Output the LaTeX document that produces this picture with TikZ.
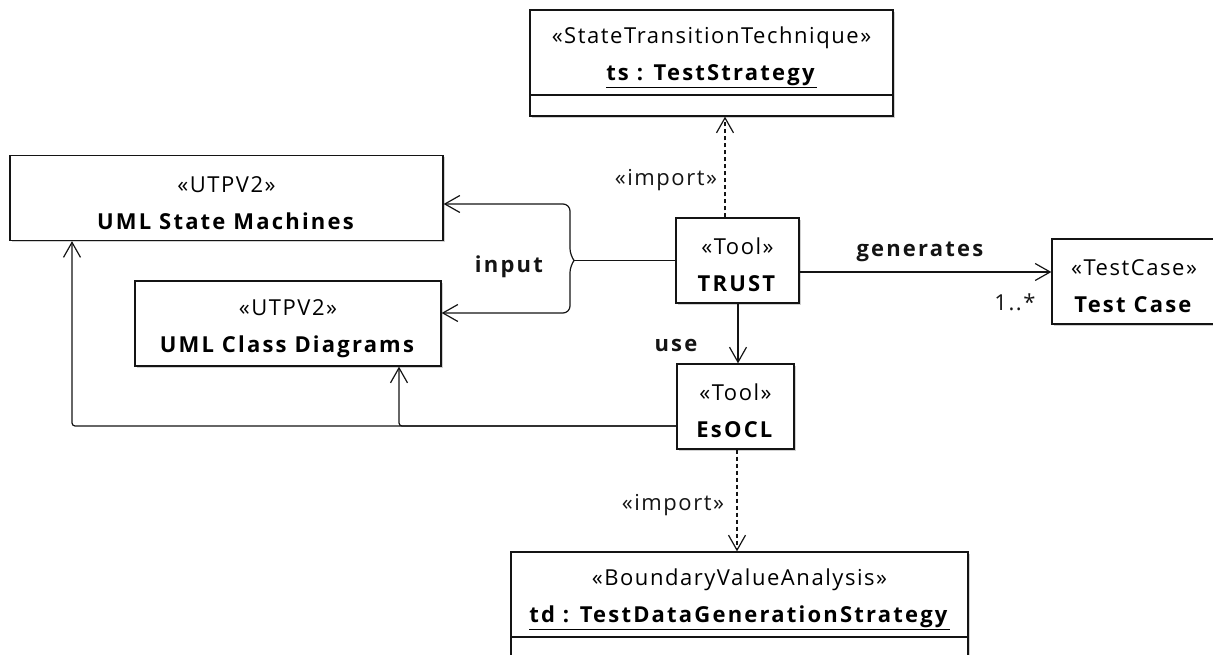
\documentclass[tikz,border=0pt]{standalone}
\usepackage{fontspec}
\setmainfont{Open Sans}[LetterSpace=7,BoldFeatures={LetterSpace=10}]
\usetikzlibrary{arrows.meta,positioning,shadows}
\definecolor{umlink}{RGB}{20,20,20}
\newcommand{\umlfont}{\fontsize{22}{37}\selectfont}
\tikzset{
  umlbox/.style={rectangle, draw=umlink, fill=white, line width=1.3pt,
                 minimum height=85pt, inner sep=2pt, align=center, font=\umlfont,
                 drop shadow={shadow xshift=2pt, shadow yshift=-2pt,
                              fill=black, opacity=0.18}},
  umlobj/.style={umlbox, execute at begin node={\rule{0pt}{63pt}}},
  umlops/.style={umlbox, minimum height=21pt},
  uline/.style ={line width=1.2pt, umlink},
  uarrow/.style={uline, -{Straight Barb[length=15pt,width=17pt,line width=1.2pt]}},
  uimport/.style={uarrow, dash pattern=on 4pt off 3pt},
  ulabel/.style={font=\umlfont, inner sep=1pt, text=umlink},
}
\begin{document}
\begin{tikzpicture}[x=1pt,y=-1pt]
\useasboundingbox (0,0) rectangle (1213,655);
\node[umlobj, minimum width=363pt] (ts) at (711.5,52.5)
  {«StateTransitionTechnique»\\\underline{\textbf{ts : TestStrategy}}};
\node[umlops, minimum width=363pt, below=-1.3pt of ts] (tsops) {};
\node[umlobj, minimum width=433pt] (sm) at (226.5,198) {«UTPV2»\\\textbf{UML State Machines}};
\node[umlobj, minimum width=306pt] (cd) at (288,323.5) {«UTPV2»\\\textbf{UML Class Diagrams}};
\node[umlobj, minimum width=123pt] (trust) at (737.5,260.5) {«Tool»\\\textbf{TRUST}};
\node[umlobj, minimum width=164pt] (tc) at (1134,281.5) {«TestCase»\\\textbf{Test Case}};
\node[umlobj, minimum width=117pt] (esocl) at (735.5,406.5) {«Tool»\\\textbf{EsOCL}};
\node[umlobj, minimum width=457pt] (td) at (739.5,594.5)
  {«BoundaryValueAnalysis»\\\underline{\textbf{td : TestDataGenerationStrategy}}};
\node[umlops, minimum width=457pt, minimum height=40pt, below=-1.3pt of td] (tdops) {};
\coordinate (brtip) at (574,260.5);
\draw[uline] (trust.west) -- (brtip);
\draw[uarrow, rounded corners=7pt] (brtip) -- ++(-4,-5) |- (sm.east |- 0,204);
\draw[uarrow, rounded corners=7pt] (brtip) -- ++(-4,5) |- (cd.east |- 0,313);
\node[ulabel] (input) at (510,267) {\textbf{input}};
\draw[uimport] (trust.north -| 725,0) -- (tsops.south -| 725,0);
\node[ulabel] (impts) at (666,180) {«import»};
\draw[uarrow] (trust.east |- 0,272) -- (tc.west |- 0,272);
\node[ulabel] (gen) at (921,252) {\textbf{generates}};
\node[ulabel] (mult) at (1015,302) {1..*};
\draw[uarrow] (trust.south -| 738,0) -- (esocl.north -| 738,0);
\node[ulabel] (use) at (677,345) {\textbf{use}};
\draw[uarrow, rounded corners=3pt] (esocl.west |- 0,426) -| (sm.south -| 72,0);
\draw[uarrow, rounded corners=3pt] (esocl.west |- 0,426) -| (cd.south -| 399,0);
\draw[uimport] (esocl.south -| 737,0) -- (td.north -| 737,0);
\node[ulabel] (imptd) at (673,505) {«import»};
\end{tikzpicture}
\end{document}
